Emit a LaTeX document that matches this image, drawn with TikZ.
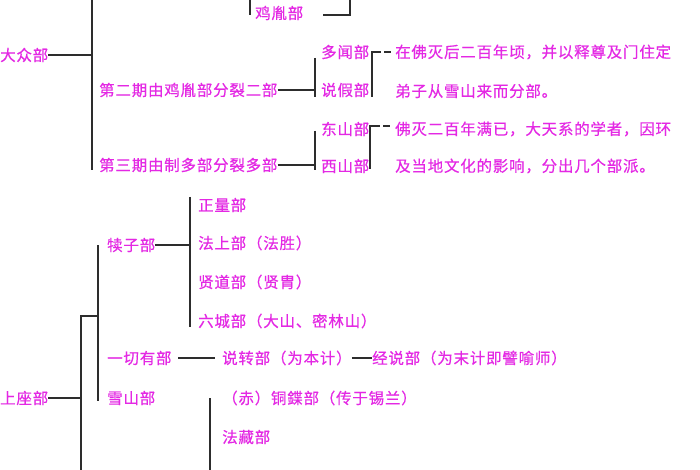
\documentclass[tikz,border=0pt]{standalone}
\usepackage{fontspec}
\newfontfamily\cjk[LetterSpace=5,FakeBold=0.4]{Noto Sans CJK SC}
\definecolor{mag}{RGB}{228,40,228}
\definecolor{lncol}{RGB}{45,45,45}
\begin{document}
\begin{tikzpicture}[x=1pt,y=-1pt,
  t/.style={anchor=west,inner sep=0pt,text=mag,font=\cjk\fontsize{15.5}{18}\selectfont},
  ln/.style={draw=lncol,line width=1.5pt}]
\useasboundingbox[fill=white] (0,0) rectangle (700,470);
% upper part
\node[t] (jiyin) at (255,13) {鸡胤部};
\node[t] (dazhong) at (0,55) {大众部};
\node[t] (p2) at (99,90) {第二期由鸡胤部分裂二部};
\node[t] (duowen) at (321,52) {多闻部};
\node[t] (shuojia) at (321,90) {说假部};
\node[t] (d1) at (395,52) {在佛灭后二百年顷，并以释尊及门住定};
\node[t] (d2) at (395,91) {弟子从雪山来而分部。};
\node[t] (p3) at (99,165) {第三期由制多部分裂多部};
\node[t] (dongshan) at (321,129) {东山部};
\node[t] (xishan) at (321,166) {西山部};
\node[t] (e1) at (395,129) {佛灭二百年满已，大天系的学者，因环};
\node[t] (e2) at (395,166) {及当地文化的影响，分出几个部派。};
% lower part
\node[t] (zhengliang) at (198,205) {正量部};
\node[t] (duzi) at (107,245) {犊子部};
\node[t] (fashang) at (198,243) {法上部（法胜）};
\node[t] (xiandao) at (198,282) {贤道部（贤胄）};
\node[t] (liucheng) at (198,321) {六城部（大山、密林山）};
\node[t] (shangzuo) at (0,398) {上座部};
\node[t] (yiqie) at (107,358) {一切有部};
\node[t] (shuozhuan) at (222,358) {说转部（为本计）};
\node[t] (jingshuo) at (372,358) {经说部（为末计即譬喻师）};
\node[t] (xueshan) at (107,398) {雪山部};
\node[t] (tongye) at (222,398) {（赤）铜鍱部（传于锡兰）};
\node[t] (fazang) at (222,437) {法藏部};
% coordinates
\coordinate (jyL1) at (250,0);
\coordinate (jyL2) at (250,15);
\coordinate (jyR1) at (323,15);
\coordinate (jyR2) at (350,15);
\coordinate (jyR3) at (350,0);
\coordinate (trA1) at (92,0);
\coordinate (trA2) at (92,170);
\coordinate (v2a) at (315,58);
\coordinate (v2b) at (315,97);
\coordinate (b2a) at (372,97);
\coordinate (b2b) at (372,52);
\coordinate (b2c) at (381,52);
\coordinate (b2d) at (384,52);
\coordinate (b2e) at (391,52);
\coordinate (v3a) at (315,131);
\coordinate (v3b) at (315,170);
\coordinate (b3a) at (370,169);
\coordinate (b3b) at (370,126);
\coordinate (b3c) at (380,126);
\coordinate (b3d) at (383,126);
\coordinate (b3e) at (390,126);
\coordinate (vz1) at (190,197);
\coordinate (vz2) at (190,327);
\coordinate (vd1) at (98,245);
\coordinate (vd2) at (98,401);
\coordinate (vs1) at (81,316);
\coordinate (vs2) at (81,470);
\coordinate (vx1) at (210,398);
\coordinate (vx2) at (210,470);
\coordinate (yq1) at (178,358);
\coordinate (yq2) at (215,358);
% connectors
\draw[ln] (jyL1) -- (jyL2);
\draw[ln] (jyR1) -- (jyR2) -- (jyR3);
\draw[ln] (trA1) -- (trA2);
\draw[ln] (dazhong.east) -- (dazhong.east -| trA1);
\draw[ln] (v2a) -- (v2b);
\draw[ln] (p2.east) -- (p2.east -| v2a);
\draw[ln] (b2a) -- (b2b) -- (b2c);
\draw[ln] (b2d) -- (b2e);
\draw[ln] (v3a) -- (v3b);
\draw[ln] (p3.east) -- (p3.east -| v3a);
\draw[ln] (b3a) -- (b3b) -- (b3c);
\draw[ln] (b3d) -- (b3e);
\draw[ln] (vz1) -- (vz2);
\draw[ln] (duzi.east) -- (duzi.east -| vz1);
\draw[ln] (vd1) -- (vd2);
\draw[ln] (vs2) -- (vs1) -- (vs1 -| vd1);
\draw[ln] (shangzuo.east) -- (shangzuo.east -| vs1);
\draw[ln] (vx1) -- (vx2);
\draw[ln] (yq1) -- (yq2);
\draw[ln] (shuozhuan.east) -- (jingshuo.west);
\end{tikzpicture}
\end{document}
